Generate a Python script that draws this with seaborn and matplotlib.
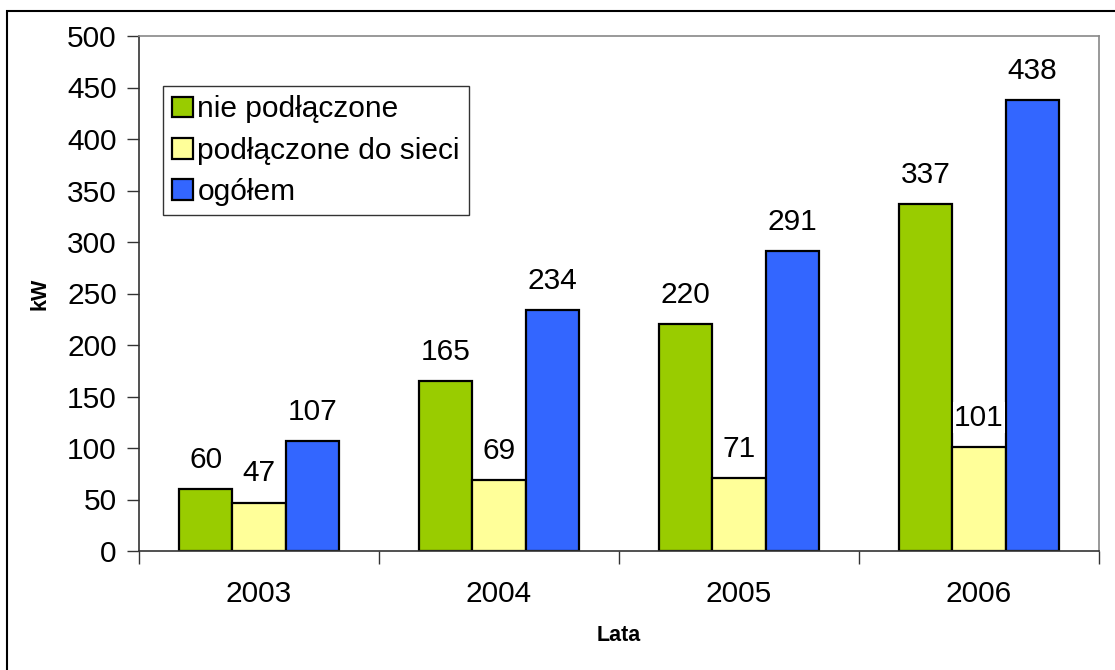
import pandas as pd
import seaborn as sns
import matplotlib.pyplot as plt
import matplotlib.patches as mpatches
import numpy as np

# dane
years = ['2003', '2004', '2005', '2006']
series = ['nie podłączone', 'podłączone do sieci', 'ogółem']
nie_podlaczone = [60, 165, 220, 337]
podlaczone = [47, 69, 71, 101]
ogolem = [107, 234, 291, 438]
colors = ['#99CC00', '#FFFF99', '#3366FF']

df = pd.DataFrame({
    'rok': years * 3,
    'seria': [series[0]] * 4 + [series[1]] * 4 + [series[2]] * 4,
    'kW': nie_podlaczone + podlaczone + ogolem,
})

sns.set_style('white')
plt.rcParams['font.family'] = ['Liberation Sans', 'DejaVu Sans']
plt.rcParams['text.color'] = 'black'
plt.rcParams['xtick.color'] = 'black'
plt.rcParams['ytick.color'] = 'black'
plt.rcParams['axes.labelcolor'] = 'black'

fig = plt.figure(figsize=(11.15, 6.7), dpi=100)
ax = fig.add_axes([139 / 1115, 1 - 551 / 670, 960 / 1115, 515 / 670])

sns.barplot(data=df, x='rok', y='kW', hue='seria', palette=colors,
            saturation=1, edgecolor='black', linewidth=1.6,
            width=0.667, gap=0, ax=ax)

for cont in ax.containers:
    ax.bar_label(cont, padding=11, fontsize=21.5,
                 bbox=dict(facecolor='white', edgecolor='none', pad=1))

ax.set_ylim(0, 500)
ax.set_xlim(-0.5, 3.5)
ax.set_yticks(np.arange(0, 501, 50))
ax.tick_params(axis='y', labelsize=21.5, length=9, width=1, direction='out',
               left=True, pad=7, color='#333333')
ax.tick_params(axis='x', which='major', labelsize=21.5, length=0, pad=21)
ax.set_xticks(np.arange(-0.5, 4, 1), minor=True)
ax.tick_params(axis='x', which='minor', length=9, width=1, direction='out',
               bottom=True, color='#333333')

ax.set_xlabel('Lata', fontsize=15.5, fontweight='bold', labelpad=12)
ax.set_ylabel('kW', fontsize=15.5, fontweight='bold', labelpad=12)

for side in ['left', 'bottom']:
    ax.spines[side].set_color('#333333')
    ax.spines[side].set_linewidth(1.2)
for side in ['top', 'right']:
    ax.spines[side].set_color('#888888')
    ax.spines[side].set_linewidth(1.2)

leg = ax.legend(loc='upper left', bbox_to_anchor=(0.025, 0.902), fontsize=21.5,
                frameon=True, fancybox=False, edgecolor='black',
                handlelength=0.7, handleheight=0.7, handletextpad=0.15,
                labelspacing=0.45, borderpad=0.3, borderaxespad=0)
leg.get_frame().set_linewidth(1)

# ramka wokół całego wykresu
fig.patches.append(mpatches.Rectangle((7 / 1115, -0.05), 1.1, 0.05 + 1 - 11 / 670,
                                      transform=fig.transFigure, fill=False,
                                      edgecolor='black', linewidth=1.5))

fig.savefig('out.png', dpi=100)
